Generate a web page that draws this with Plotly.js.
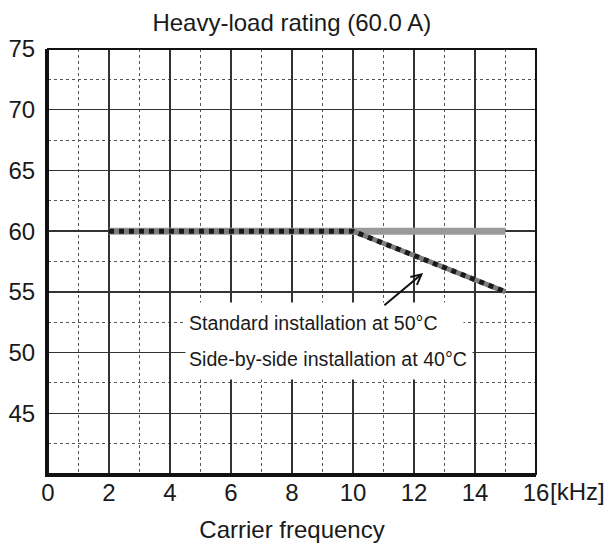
<!DOCTYPE html>
<html>
<head>
<meta charset="utf-8">
<script src="https://cdn.plot.ly/plotly-3.0.1.min.js"></script>
<style>html,body{margin:0;padding:0;background:#fff;}#chart{width:608px;height:543px;}</style>
</head>
<body>
<div id="chart"></div>
<script>
// Data
const sideBySideFreq = [2, 15];
const sideBySideCurrent = [60, 60];
const standardFreq = [2, 10, 15];
const standardCurrent = [60, 60, 55];
const xTickVals = [0, 2, 4, 6, 8, 10, 12, 14, 16];
const xTickText = ['0', '2', '4', '6', '8', '10', '12', '14', '16'];
const yTickVals = [45, 50, 55, 60, 65, 70, 75];
const yTickText = ['45', '50', '55', '60', '65', '70', '75'];
const arrowTail = [10.98, 53.8];
const arrowHead = [12.3, 56.55];

const FONT = 'Liberation Sans, Arial, sans-serif';

const traces = [
  {x: sideBySideFreq, y: sideBySideCurrent, mode: 'lines', line: {color: '#9a9a9a', width: 7}, hoverinfo: 'skip'},
  {x: standardFreq, y: standardCurrent, mode: 'lines', line: {color: '#7d7d7d', width: 5}, hoverinfo: 'skip'},
  {x: standardFreq, y: standardCurrent, mode: 'lines', line: {color: '#1a1a1a', width: 5, dash: '5px,5px'}, hoverinfo: 'skip'}
];

const layout = {
  width: 608, height: 543,
  margin: {l: 48, r: 72, t: 49, b: 69},
  paper_bgcolor: '#fff', plot_bgcolor: '#fff',
  showlegend: false,
  font: {family: FONT, color: '#1a1a1a', size: 24},
  title: {text: 'Heavy-load rating (60.0 A)', font: {family: FONT, size: 24, color: '#1a1a1a'},
          x: 0.48, xanchor: 'center', y: 0.958, yanchor: 'middle', yref: 'container'},
  xaxis: {
    range: [0, 16], tickmode: 'array', tickvals: xTickVals, ticktext: xTickText,
    showgrid: true, gridcolor: '#333', gridwidth: 1.3,
    minor: {dtick: 1, tick0: 0, showgrid: true, gridcolor: '#555', gridwidth: 1, griddash: 'dot'},
    showline: true, linecolor: '#111', linewidth: 3,
    ticks: '', zeroline: false, ticklabelstandoff: -5,
    tickfont: {family: FONT, size: 24, color: '#1a1a1a'},
    title: {text: 'Carrier frequency', font: {family: FONT, size: 24, color: '#1a1a1a'}, standoff: 17}
  },
  yaxis: {
    range: [40, 75], tickmode: 'array', tickvals: yTickVals, ticktext: yTickText,
    showgrid: true, gridcolor: '#333', gridwidth: 1.3,
    minor: {dtick: 2.5, tick0: 0, showgrid: true, gridcolor: '#555', gridwidth: 1, griddash: 'dot'},
    showline: true, linecolor: '#111', linewidth: 3,
    ticks: '', zeroline: false, ticklabelstandoff: 5,
    tickfont: {family: FONT, size: 24, color: '#1a1a1a'}
  },
  shapes: [
    {type: 'rect', xref: 'paper', yref: 'paper', x0: 0, x1: 1, y0: 0, y1: 1, line: {color: '#111', width: 2}, layer: 'above'}
  ],
  annotations: [
    {xref: 'x', yref: 'paper', x: 16, y: 0, xanchor: 'left', yanchor: 'top', xshift: 12, yshift: -2,
     text: '[kHz]', showarrow: false, font: {family: FONT, size: 24, color: '#1a1a1a'}},
    {xref: 'x', yref: 'y', x: 4.49, y: 52.45, xanchor: 'left', yanchor: 'middle',
     text: 'Standard installation at 50°C', showarrow: false, align: 'left',
     width: 271, height: 33, borderpad: 3, bgcolor: '#fff',
     font: {family: FONT, size: 19.6, color: '#1a1a1a'}},
    {xref: 'x', yref: 'y', x: 4.49, y: 49.5, xanchor: 'left', yanchor: 'middle',
     text: 'Side-by-side installation at 40°C', showarrow: false, align: 'left',
     width: 280, height: 34, borderpad: 3, bgcolor: '#fff',
     font: {family: FONT, size: 19.6, color: '#1a1a1a'}},
    {xref: 'x', yref: 'y', axref: 'x', ayref: 'y', x: arrowHead[0], y: arrowHead[1], ax: arrowTail[0], ay: arrowTail[1],
     text: '', showarrow: true, arrowhead: 5, arrowsize: 1, arrowwidth: 2, arrowcolor: '#111'}
  ]
};

Plotly.newPlot('chart', traces, layout, {displayModeBar: false, staticPlot: true});
</script>
</body>
</html>
